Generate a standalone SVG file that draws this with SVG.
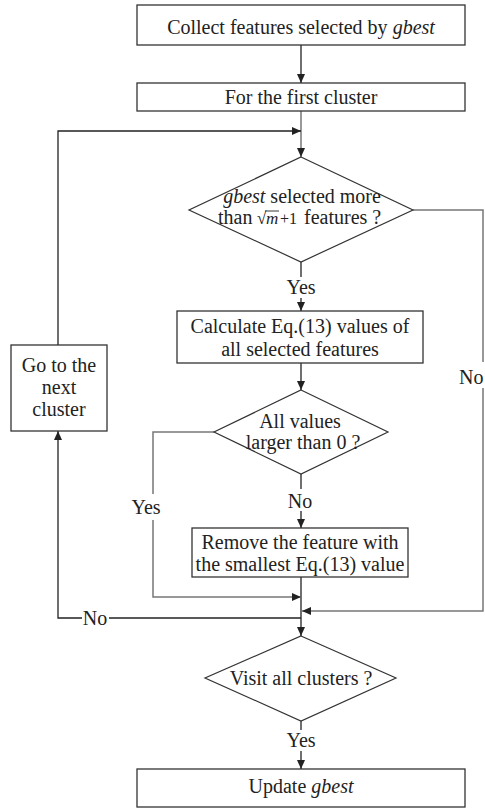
<svg xmlns="http://www.w3.org/2000/svg" width="485" height="808" viewBox="0 0 485 808" font-family="'Liberation Serif', 'Times New Roman', serif">
<defs>
<marker id="arr" markerUnits="userSpaceOnUse" markerWidth="10" markerHeight="8" refX="9" refY="4" orient="auto">
<path d="M0,0 L9,4 L0,8 z" fill="#222"/>
</marker>
<style>
text{font-family:'Liberation Serif','Times New Roman',serif}
.box{fill:#fff;stroke:#333;stroke-width:1.3}
.dia{fill:#fff;stroke:#333;stroke-width:1.2}
.t{font-size:20px;fill:#222;text-anchor:middle}
.ts{font-size:20px;fill:#222}
.i{font-style:italic}
.ln{fill:none;stroke:#222;stroke-width:1.3}
.lg{fill:none;stroke:#777;stroke-width:1.5}
</style>
</defs>
<rect width="485" height="808" fill="#fff"/>
<g id="connectors">
<path class="ln" d="M301,45 V83" marker-end="url(#arr)"/>
<path class="lg" d="M301,111 V157" marker-end="url(#arr)"/>
<path class="ln" d="M58,345 V131 H301" marker-end="url(#arr)"/>
<path class="ln" d="M301,262 V277"/>
<path class="ln" d="M301,298 V311" marker-end="url(#arr)"/>
<path class="ln" d="M301,363 V390" marker-end="url(#arr)"/>
<path class="ln" d="M301,474 V489"/>
<path class="ln" d="M301,511 V528" marker-end="url(#arr)"/>
<path class="ln" d="M301,577 V636" marker-end="url(#arr)"/>
<path class="lg" d="M214,432 H153 V494"/>
<path class="lg" d="M153,520 V597 H301" marker-end="url(#arr)"/>
<path class="lg" d="M413,210 H483 V362"/>
<path class="lg" d="M483,388 V611 H302" marker-end="url(#arr)"/>
<path class="ln" d="M301,618 H109"/>
<path class="ln" d="M82,618 H58 V431" marker-end="url(#arr)"/>
<path class="ln" d="M301,721 V730"/>
<path class="ln" d="M301,751 V769" marker-end="url(#arr)"/>
<text class="t" x="301" y="294">Yes</text>
<text class="t" x="300" y="508">No</text>
<text class="t" x="146" y="514">Yes</text>
<text class="ts" x="459" y="384">No</text>
<text class="t" x="95" y="625">No</text>
<text class="t" x="301" y="747">Yes</text>
</g>
<g id="n1">
<rect class="box" x="137" y="5" width="328" height="40"/>
<text class="t" x="301" y="34">Collect features selected by <tspan class="i">gbest</tspan></text>
</g>
<g id="n2">
<rect class="box" x="137" y="83" width="328" height="28"/>
<text class="t" x="301" y="104">For the first cluster</text>
</g>
<g id="n3">
<polygon class="dia" points="301,157 413,210 301,262 189,210"/>
<text class="t" x="302" y="203"><tspan class="i">gbest</tspan> selected more</text>
<text class="ts" y="224"><tspan x="218">than</tspan><tspan x="257" font-size="17">√</tspan><tspan x="266" font-size="17" class="i">m</tspan><tspan x="280" font-size="16">+1</tspan><tspan x="304">features ?</tspan></text>
<line x1="265" y1="211" x2="279" y2="211" stroke="#222" stroke-width="0.9"/>
</g>
<g id="n4">
<rect class="box" x="177" y="311" width="246" height="52"/>
<text class="t" x="300" y="333">Calculate Eq.(13) values of</text>
<text class="t" x="300" y="356">all selected features</text>
</g>
<g id="n5">
<polygon class="dia" points="301,390 388,432 301,474 214,432"/>
<text class="t" x="300" y="428">All values</text>
<text class="t" x="303" y="449">larger than 0 ?</text>
</g>
<g id="n6">
<rect class="box" x="192" y="528" width="216" height="49"/>
<text class="t" x="300" y="549">Remove the feature with</text>
<text class="t" x="300" y="571">the smallest Eq.(13) value</text>
</g>
<g id="n7">
<rect class="box" x="11" y="345" width="96" height="86"/>
<text class="t" x="59" y="372">Go to the</text>
<text class="t" x="59" y="394">next</text>
<text class="t" x="59" y="416">cluster</text>
</g>
<g id="n8">
<polygon class="dia" points="301,636 396,678 301,721 205,678"/>
<text class="t" x="301" y="685">Visit all clusters ?</text>
</g>
<g id="n9">
<rect class="box" x="137" y="769" width="328" height="38"/>
<text class="t" x="301" y="793">Update <tspan class="i">gbest</tspan></text>
</g>
</svg>
